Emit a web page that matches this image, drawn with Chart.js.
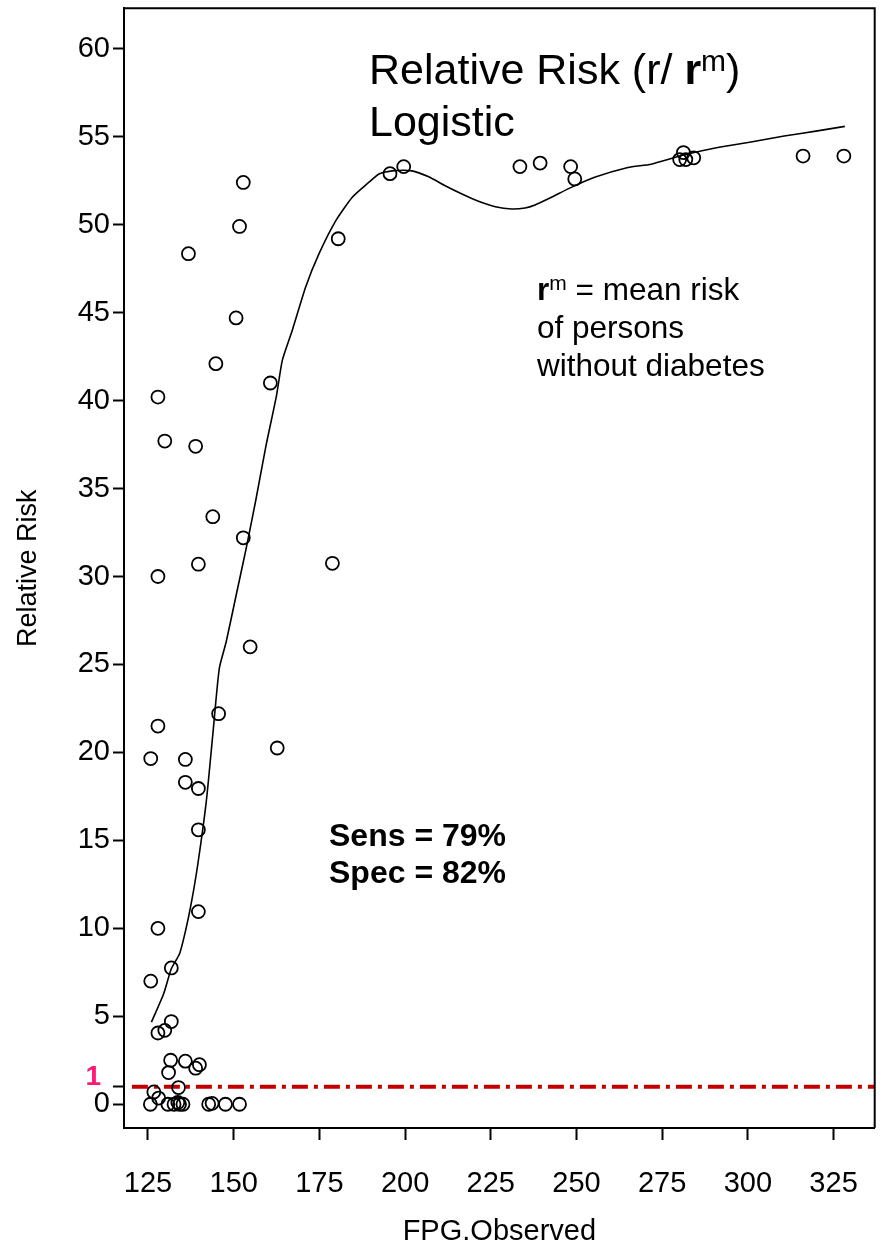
<!DOCTYPE html>
<html>
<head>
<meta charset="utf-8">
<script src="https://cdn.jsdelivr.net/npm/chart.js@4.4.1/dist/chart.umd.min.js"></script>
<style>
  html, body { margin: 0; padding: 0; background: #fff; }
</style>
</head>
<body>
<canvas id="riskChart" width="883" height="1249"></canvas>
<script>
// observed points
const fpg = [
  195.6, 199.6, 233.5, 239.4, 248.3, 249.5, 280.1, 281.2, 281.9, 284.2, 316.1, 328.0,
  152.8, 151.7, 136.8, 180.5, 150.7, 144.8, 160.7, 127.9, 129.9, 138.9,
  143.9, 152.8, 139.7, 127.9, 178.8, 154.8, 145.6, 127.9, 162.7, 125.8, 135.9, 135.9, 139.7, 139.7,
  139.7, 127.9, 131.8, 125.8, 131.8, 129.9, 127.9, 131.6, 135.9, 140.0, 138.9, 131.0, 133.9, 126.7, 128.1,
  125.7, 130.8, 132.6, 133.7, 134.2, 135.2, 142.7, 143.7, 147.6, 151.7
];
const relRisk = [
  52.9, 53.3, 53.3, 53.5, 53.3, 52.6, 53.7, 54.1, 53.7, 53.8, 53.9, 53.9,
  52.4, 49.9, 48.35, 49.2, 44.7, 42.1, 41.0, 40.2, 37.7, 37.4,
  33.4, 32.2, 30.7, 30.0, 30.75, 26.0, 22.2, 21.5, 20.25, 19.65, 19.6, 18.3, 17.95, 15.6,
  10.95, 10.0, 7.75, 7.0, 4.7, 4.2, 4.05, 2.5, 2.45, 2.25, 2.05, 1.8, 0.95, 0.7, 0.35,
  0, 0, 0, 0.1, 0, 0, 0, 0.05, 0, 0
];

// logistic fit curve
const curveFpg = [
  126.0, 129.6, 131.8, 134.2, 136.0, 137.6, 139.5, 142.0, 143.9, 145.8, 147.8, 150.7,
  153.6, 156.5, 159.4, 162.5, 164.2, 167.1, 171.0, 174.9, 179.8, 184.6, 189.4, 192.4,
  196.2, 202.0, 206.9, 211.7, 216.6, 221.4, 226.3, 231.1, 235.0, 237.9, 242.7, 248.5,
  255.3, 265.0, 271.8, 281.5, 291.2, 300.9, 310.6, 320.3, 328.3
];
const curveRisk = [
  4.67, 6.3, 7.7, 8.55, 9.9, 11.4, 13.6, 17.2, 21.0, 24.77, 26.28, 28.92,
  31.56, 34.39, 37.41, 40.3, 42.3, 44.0, 46.46, 48.35, 50.23, 51.56, 52.4, 52.88,
  53.06, 53.06, 52.72, 52.21, 51.74, 51.33, 51.02, 50.89, 50.95, 51.12, 51.56, 52.12,
  52.69, 53.25, 53.44, 53.97, 54.39, 54.7, 55.04, 55.33, 55.59
];

// reference line at RR = 1
const refLineFpg = [120.3, 337];
const refLineRisk = 1;

const xTicks = [125, 150, 175, 200, 225, 250, 275, 300, 325];
const yTicks = [0, 1, 5, 10, 15, 20, 25, 30, 35, 40, 45, 50, 55, 60];

const FONT = '"Liberation Sans", Arial, sans-serif';

function drawRuns(ctx, x, y, runs) {
  runs.forEach(r => {
    ctx.font = r.font;
    ctx.fillText(r.text, x, y + (r.dy || 0));
    x += ctx.measureText(r.text).width;
  });
}

const frame = {
  id: 'frame',
  afterDraw(chart) {
    const {ctx, chartArea: a} = chart;
    ctx.save();
    ctx.strokeStyle = '#000';
    ctx.lineWidth = 2;
    ctx.beginPath();
    ctx.moveTo(a.left, a.top);
    ctx.lineTo(a.right, a.top);
    ctx.lineTo(a.right, a.bottom);
    ctx.stroke();
    ctx.restore();
  }
};

const notes = {
  id: 'notes',
  afterDraw(chart) {
    const ctx = chart.ctx;
    ctx.save();
    ctx.fillStyle = '#000';
    ctx.textBaseline = 'alphabetic';
    ctx.textAlign = 'left';
    drawRuns(ctx, 369, 84, [
      {text: 'Relative Risk (r/ ', font: '43px ' + FONT},
      {text: 'r', font: 'bold 43px ' + FONT},
      {text: 'm', font: '30px ' + FONT, dy: -13},
      {text: ')', font: '43px ' + FONT}
    ]);
    drawRuns(ctx, 369, 136, [{text: 'Logistic', font: '43px ' + FONT}]);

    drawRuns(ctx, 537, 300, [
      {text: 'r', font: 'bold 31.5px ' + FONT},
      {text: 'm', font: '21px ' + FONT, dy: -10},
      {text: ' = mean risk', font: '31.5px ' + FONT}
    ]);
    drawRuns(ctx, 537, 338, [{text: 'of persons', font: '31.5px ' + FONT}]);
    drawRuns(ctx, 537, 376, [{text: 'without diabetes', font: '31.5px ' + FONT}]);

    drawRuns(ctx, 329, 846, [{text: 'Sens = 79%', font: 'bold 32px ' + FONT}]);
    drawRuns(ctx, 329, 883, [{text: 'Spec = 82%', font: 'bold 32px ' + FONT}]);

    // pink label for the RR = 1 tick
    ctx.fillStyle = '#ff1a75';
    ctx.textAlign = 'right';
    ctx.font = 'bold 28px ' + FONT;
    ctx.fillText('1', 101, 1085);
    ctx.restore();
  }
};

new Chart(document.getElementById('riskChart').getContext('2d'), {
  type: 'scatter',
  data: {
    datasets: [
      {
        label: 'Observed',
        data: fpg.map((x, i) => ({x: x, y: relRisk[i]})),
        pointStyle: 'circle',
        pointRadius: 6.5,
        pointBorderWidth: 1.8,
        pointBorderColor: '#000',
        pointBackgroundColor: 'rgba(0,0,0,0)',
        showLine: false,
        order: 1
      },
      {
        label: 'Logistic',
        type: 'line',
        data: curveFpg.map((x, i) => ({x: x, y: curveRisk[i]})),
        borderColor: '#000',
        borderWidth: 1.6,
        pointRadius: 0,
        tension: 0.2,
        fill: false,
        order: 2
      },
      {
        label: 'RR = 1',
        type: 'line',
        data: refLineFpg.map(x => ({x: x, y: refLineRisk})),
        borderColor: '#c00000',
        borderWidth: 4,
        borderDash: [16, 6, 4, 6],
        pointRadius: 0,
        fill: false,
        order: 3
      }
    ]
  },
  options: {
    responsive: false,
    animation: false,
    layout: { padding: { top: 4, right: 6, left: 0, bottom: 0 } },
    plugins: {
      legend: { display: false },
      tooltip: { enabled: false }
    },
    scales: {
      x: {
        type: 'linear',
        min: 118,
        max: 337,
        afterBuildTicks: s => { s.ticks = xTicks.map(v => ({value: v})); },
        afterFit: s => { s.height = 121; s.paddingLeft = 0; s.paddingRight = 0; },
        grid: { drawOnChartArea: false, drawTicks: true, tickLength: 12, tickWidth: 2, tickColor: '#000' },
        border: { display: true, color: '#000', width: 2 },
        ticks: { color: '#000', font: { family: FONT, size: 29 }, padding: 27, maxRotation: 0 },
        title: { display: true, text: 'FPG.Observed', color: '#000', font: { family: FONT, size: 29 }, padding: { top: 0, bottom: 0 } }
      },
      y: {
        type: 'linear',
        min: -1.35,
        max: 62.3,
        afterBuildTicks: s => { s.ticks = yTicks.map(v => ({value: v})); },
        afterFit: s => { s.width = 124; s.paddingTop = 0; s.paddingBottom = 0; },
        grid: { drawOnChartArea: false, drawTicks: true, tickLength: 11, tickWidth: 2, tickColor: '#000' },
        border: { display: true, color: '#000', width: 2 },
        ticks: {
          color: '#000',
          font: { family: FONT, size: 29 },
          padding: 3,
          callback: v => (v === 1 ? '' : v)
        },
        title: { display: true, text: 'Relative Risk', color: '#000', font: { family: FONT, size: 27 }, padding: { top: 12, bottom: 0 } }
      }
    }
  },
  plugins: [frame, notes]
});
</script>
</body>
</html>
